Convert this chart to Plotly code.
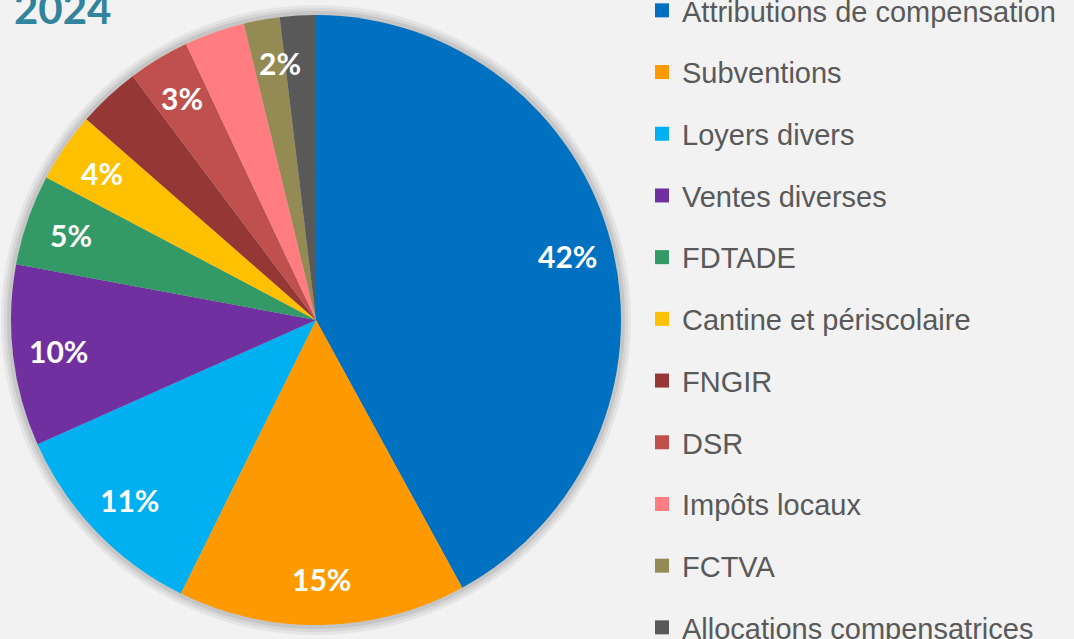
import math
import plotly.graph_objects as go

# ---- data ----
categories = ["Attributions de compensation", "Subventions", "Loyers divers", "Ventes diverses",
              "FDTADE", "Cantine et périscolaire", "FNGIR", "DSR", "Impôts locaux", "FCTVA",
              "Allocations compensatrices"]
values = [42.0, 15.25, 11.0, 9.6, 4.8, 3.7, 3.3, 3.25, 3.2, 1.9, 1.9]
show_label = [True, True, True, True, True, True, False, True, False, True, False]
title_text = "2024"

# ---- style ----
colors = ["#0070C0", "#FF9900", "#00B0F0", "#7030A0", "#339966", "#FFC000",
          "#953735", "#C0504D", "#FF7C80", "#948A54", "#595959"]
label_frac = [0.5, 0.5, 0.5, 0.5, 0.5, 0.5, 0.5, 0.5, 0.5, 0.85, 0.5]  # position of label within slice angle
label_r = 0.85

W, H = 1074, 639
CX, CY, R = 316, 320, 305  # pixel centre / radius of the pie

fig = go.Figure()

# soft shadow around the pie
for k, op in [(10, 0.05), (7, 0.06), (4, 0.08)]:
    fig.add_shape(type="circle", xref="paper", yref="paper",
                  x0=(CX - R - k) / W, x1=(CX + R + k) / W,
                  y0=(H - CY - R - k) / H, y1=(H - CY + R + k) / H,
                  fillcolor=f"rgba(0,0,0,{op})", line=dict(width=0), layer="below")

fig.add_trace(go.Pie(
    labels=categories, values=values, sort=False, direction="clockwise", rotation=0,
    marker=dict(colors=colors, line=dict(width=0)),
    textinfo="none", hoverinfo="label+percent", showlegend=False,
    domain=dict(x=[(CX - R) / W, (CX + R) / W], y=[(H - CY - R) / H, (H - CY + R) / H]),
))

# legend entries (one per category)
for name, col in zip(categories, colors):
    fig.add_trace(go.Scatter(x=[None], y=[None], mode="markers", name=name, legendgroup=name,
                             marker=dict(symbol="square", size=14, color=col)))

# percentage labels, positioned from the data
total = sum(values)
cum = 0.0
for v, show, frac in zip(values, show_label, label_frac):
    a0 = cum / total * 2 * math.pi
    a1 = (cum + v) / total * 2 * math.pi
    cum += v
    if not show:
        continue
    a = a0 + (a1 - a0) * frac
    px = CX + label_r * R * math.sin(a)
    py = CY - label_r * R * math.cos(a)
    fig.add_annotation(x=px / W, y=1 - py / H, xref="paper", yref="paper",
                       xanchor="center", yanchor="middle",
                       text=f"<b>{round(v / total * 100)}%</b>", showarrow=False,
                       font=dict(family="Lato", size=30, color="white"))

fig.add_annotation(x=12 / W, y=1 - 8 / H, xref="paper", yref="paper", xanchor="left", yanchor="middle",
                   text=f"<b>{title_text}</b>", showarrow=False,
                   font=dict(family="Lato", size=42, color="#31849B"))

fig.update_layout(
    width=W, height=H, margin=dict(l=0, r=0, t=0, b=0, autoexpand=False),
    paper_bgcolor="#f2f2f2", plot_bgcolor="rgba(0,0,0,0)",
    xaxis=dict(visible=False, domain=[0.99, 1]), yaxis=dict(visible=False, domain=[0.99, 1]),
    legend=dict(x=642 / W, y=1 + 15 / H, xanchor="left", yanchor="top", tracegroupgap=21,
                maxheight=2000,
                font=dict(family="Liberation Sans", size=29, color="#595959"),
                bgcolor="rgba(0,0,0,0)"),
)

fig.write_html("out.html", config={"displayModeBar": False},
               post_script="document.body.style.margin='0';document.body.style.overflow='hidden';")
